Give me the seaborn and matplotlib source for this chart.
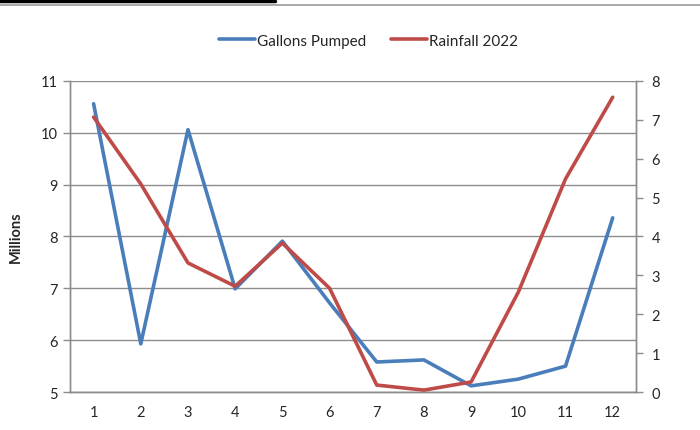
import numpy as np
import pandas as pd
import matplotlib.pyplot as plt
import seaborn as sns
from matplotlib.lines import Line2D

# data
months = [1, 2, 3, 4, 5, 6, 7, 8, 9, 10, 11, 12]
gallons = [10.56, 5.93, 10.06, 6.99, 7.91, 6.72, 5.58, 5.62, 5.12, 5.25, 5.50, 8.36]
rainfall = [7.07, 5.35, 3.32, 2.72, 3.83, 2.67, 0.18, 0.05, 0.26, 2.57, 5.48, 7.58]

df = pd.DataFrame({"month": months, "gallons": gallons, "rainfall": rainfall})

sns.set_style("white")
plt.rcParams['font.family'] = ['Lato', 'DejaVu Sans']

blue = "#4a7ebb"
red = "#be4b48"
grid = "#8c8c8c"

fig = plt.figure(figsize=(7, 4.31), dpi=100)
ax = fig.add_axes([0.1, 0.088, 0.809, 0.722])
ax2 = ax.twinx()

sns.lineplot(data=df, x="month", y="gallons", ax=ax, color=blue, linewidth=2.6,
             label="Gallons Pumped", legend=False)
sns.lineplot(data=df, x="month", y="rainfall", ax=ax2, color=red, linewidth=2.6,
             label="Rainfall 2022", legend=False)

ax.set_xlim(0.5, 12.5)
ax.set_ylim(5, 11)
ax2.set_ylim(0, 8)
ax.set_yticks(range(5, 12))
ax2.set_yticks(range(0, 9))
ax.set_xticks(months)
ax.set_xticks(np.arange(0.5, 13, 1), minor=True)
ax.tick_params(axis="x", which="major", length=0, pad=9, labelsize=10.5)
ax.tick_params(axis="x", which="minor", length=5, color=grid, width=1)
ax.tick_params(axis="y", length=5, color=grid, width=1, labelsize=10.5, pad=4)
ax2.tick_params(axis="y", length=5, color=grid, width=1, labelsize=10.5, pad=6)

ax.yaxis.grid(True, color=grid, linewidth=1)
ax.set_axisbelow(True)
ax.set_xlabel("")
ax.set_ylabel("Millions", fontweight="bold", fontsize=10.5, labelpad=13)
ax2.set_ylabel("")

for a in (ax, ax2):
    a.spines["top"].set_visible(False)
    for side in ("left", "right", "bottom"):
        a.spines[side].set_color(grid)
        a.spines[side].set_linewidth(1)

handles = [Line2D([0], [0], color=blue, linewidth=2.6),
           Line2D([0], [0], color=red, linewidth=2.6)]
fig.legend(handles, ["Gallons Pumped", "Rainfall 2022"], loc="center",
           bbox_to_anchor=(0.526, 0.903), ncol=2, frameon=False, fontsize=11,
           handlelength=2.4, handletextpad=0.1, columnspacing=1.6)

# header rules at the top of the picture
fig.add_artist(Line2D([0, 0.393], [0.996, 0.996], color="black", linewidth=2.5))
fig.add_artist(Line2D([0, 1], [0.986, 0.986], color="#999999", linewidth=1.2))

fig.savefig("out.png", dpi=100)
